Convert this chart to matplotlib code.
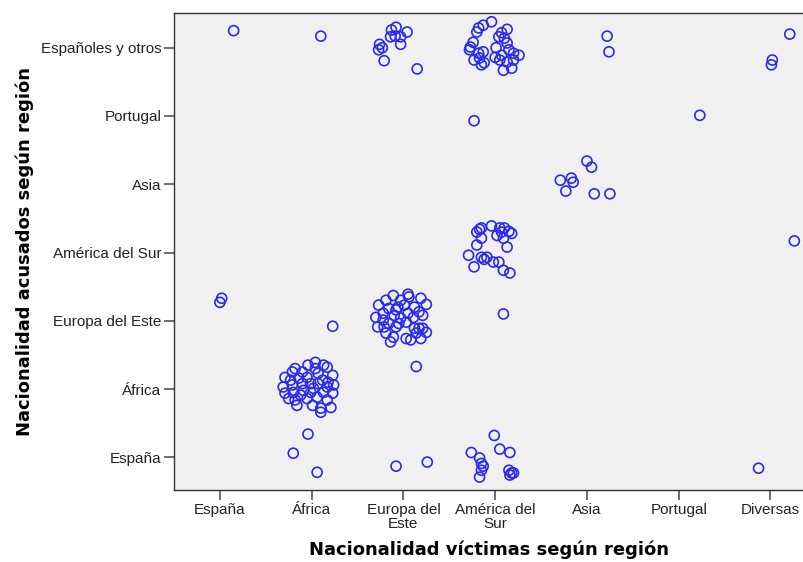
import matplotlib
matplotlib.use("Agg")
import matplotlib.pyplot as plt

# Category labels
x_labels = ["España", "África", "Europa del\nEste", "América del\nSur", "Asia", "Portugal", "Diversas"]
y_labels = ["España", "África", "Europa del Este", "América del Sur", "Asia", "Portugal", "Españoles y otros"]

# Jittered points (category index + jitter)
# Row: Españoles y otros (6)
top_x = [0.15, 1.10,
         1.92, 2.04, 1.87, 1.86, 1.91, 1.97, 1.74, 1.77, 1.73, 1.79, 2.15, 1.97,
         2.96, 2.87, 2.82, 2.80, 3.13, 3.07, 3.04, 3.10, 2.76, 2.73, 2.72, 2.87, 2.82, 2.83, 2.77,
         3.01, 3.13, 3.15, 3.20, 3.26, 3.07, 3.05, 3.13, 3.20, 3.18, 3.09, 2.88, 2.85, 3.00,
         4.22, 4.24, 6.21, 6.02, 6.01]
top_y = [6.25, 6.17,
         6.30, 6.23, 6.26, 6.16, 6.17, 6.05, 6.05, 6.00, 5.97, 5.81, 5.69, 6.16,
         6.38, 6.33, 6.29, 6.23, 6.27, 6.22, 6.16, 6.14, 6.08, 6.01, 5.97, 5.94, 5.92, 5.85, 5.82,
         6.00, 6.07, 5.97, 5.92, 5.89, 5.89, 5.82, 5.79, 5.82, 5.70, 5.67, 5.78, 5.75, 5.86,
         6.17, 5.94, 6.20, 5.82, 5.75]

# Row: Portugal (5)
por_x = [2.77, 5.23]
por_y = [4.93, 5.01]

# Row: Asia (4)
asia_x = [4.00, 4.05, 3.71, 3.83, 3.85, 3.77, 4.08, 4.25]
asia_y = [4.34, 4.25, 4.06, 4.09, 4.03, 3.90, 3.86, 3.86]

# Row: América del Sur (3)
ams_x = [2.96, 2.83, 2.80, 2.85, 3.05, 3.10, 3.15, 3.18, 3.07, 3.02, 3.09, 2.85, 2.80, 3.13,
         2.71, 2.85, 2.91, 2.88, 2.98, 3.04, 2.77, 3.09, 3.16, 6.26]
ams_y = [3.39, 3.34, 3.30, 3.36, 3.36, 3.36, 3.31, 3.28, 3.30, 3.25, 3.21, 3.21, 3.11, 3.08,
         2.96, 2.93, 2.93, 2.90, 2.86, 2.86, 2.79, 2.74, 2.70, 3.17]

# Row: Europa del Este (2)
eur_x = [0.02, 0.00, 1.23, 3.09,
         1.89, 2.05, 2.06, 2.19, 2.25, 1.81, 1.73, 1.70, 1.78, 1.84, 1.94, 2.01, 2.12, 2.17, 2.21,
         1.97, 1.90, 2.05, 2.11, 1.72, 1.79, 1.84, 1.92, 1.81, 1.89, 1.86, 2.12, 2.17, 2.25, 2.21,
         2.14, 2.03, 2.08, 2.19, 1.78, 1.95, 2.14, 1.97, 1.92, 2.03]
eur_y = [2.33, 2.27, 1.92, 2.10,
         2.37, 2.39, 2.35, 2.33, 2.24, 2.30, 2.23, 2.05, 2.11, 2.18, 2.20, 2.23, 2.20, 2.13, 2.08,
         2.04, 2.08, 2.11, 2.05, 1.91, 1.91, 1.96, 1.91, 1.82, 1.76, 1.69, 1.89, 1.89, 1.83, 1.89,
         1.82, 1.74, 1.72, 1.74, 2.01, 1.96, 1.33, 2.30, 2.16, 1.98]

# Row: África (1)
afr_x = [1.04, 1.13, 1.17, 0.96, 0.82, 0.79, 0.90, 1.04, 1.07, 1.23, 0.71, 0.77, 0.86, 0.95,
         1.12, 1.18, 1.24, 0.69, 0.79, 0.90, 0.99, 1.07, 1.17, 0.71, 0.80, 0.91, 1.02, 1.13,
         1.23, 0.75, 0.82, 0.95, 1.06, 1.17, 0.84, 1.01, 1.10, 1.21, 1.10, 0.88, 0.99]
afr_y = [1.39, 1.35, 1.32, 1.35, 1.30, 1.25, 1.25, 1.30, 1.23, 1.20, 1.17, 1.13, 1.16, 1.17,
         1.13, 1.10, 1.06, 1.03, 1.06, 1.08, 1.08, 1.08, 1.03, 0.94, 0.95, 0.98, 1.01, 0.95,
         0.94, 0.86, 0.84, 0.86, 0.88, 0.84, 0.76, 0.76, 0.72, 0.73, 0.66, 0.91, 0.95]

# Row: España (0)
esp_x = [0.96, 0.80, 1.06, 1.92, 2.26, 2.99, 2.74, 3.05, 3.16, 2.83, 2.85, 2.87, 2.85, 2.83,
         3.15, 3.18, 3.16, 3.20, 5.87]
esp_y = [0.34, 0.06, -0.22, -0.13, -0.07, 0.32, 0.07, 0.12, 0.07, -0.01, -0.09, -0.13, -0.19,
         -0.29, -0.19, -0.23, -0.26, -0.23, -0.16]

all_x = top_x + por_x + asia_x + ams_x + eur_x + afr_x + esp_x
all_y = top_y + por_y + asia_y + ams_y + eur_y + afr_y + esp_y

fig = plt.figure(figsize=(8.04, 5.62), dpi=100)
ax = fig.add_axes([0.2164, 0.128, 0.783, 0.849])
ax.set_facecolor("#F0F0F0")

ax.scatter(all_x, all_y, s=52, facecolors="none", edgecolors="#2A2AEE", linewidths=1.2, zorder=3)

ax.set_xlim(-0.5, 6.36)
ax.set_ylim(-0.48, 6.51)

ax.set_xticks(range(len(x_labels)))
ax.set_xticklabels(x_labels, fontfamily="Liberation Sans", fontsize=11, linespacing=1.0)
ax.set_yticks(range(len(y_labels)))
ax.set_yticklabels(y_labels, fontfamily="Liberation Sans", fontsize=11)

ax.tick_params(axis="both", direction="out", length=7, width=1.2, color="#555555",
               labelcolor="#222222", pad=2)

for sp in ax.spines.values():
    sp.set_color("#333333")
    sp.set_linewidth(1.0)

ax.set_xlabel("Nacionalidad víctimas según región", fontfamily="DejaVu Sans",
              fontweight="bold", fontsize=13, labelpad=7)
ax.set_ylabel("Nacionalidad acusados según región", fontfamily="DejaVu Sans",
              fontweight="bold", fontsize=13, labelpad=5)

fig.savefig("out.png", dpi=100)
